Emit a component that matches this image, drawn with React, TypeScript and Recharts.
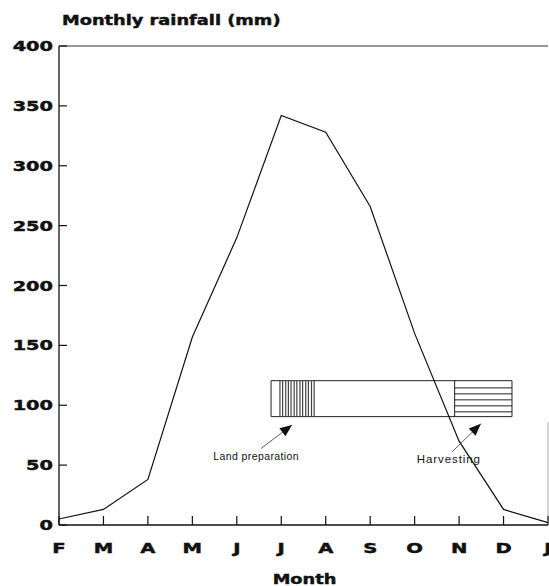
import React from "react";
import {
  LineChart,
  Line,
  XAxis,
  YAxis,
  ReferenceArea,
  ReferenceLine,
  ReferenceDot,
} from "recharts";

// months Feb -> Jan, monthly rainfall (mm)
const MONTHS = ["F", "M", "A", "M", "J", "J", "A", "S", "O", "N", "D", "J"];
const RAINFALL = [5, 13, 38, 157, 240, 342, 328, 266, 160, 70, 13, 2];
const Y_TICKS = [0, 50, 100, 150, 200, 250, 300, 350, 400];

// crop calendar bar (x in month index, y in mm)
const BAR_X = [4.77, 10.19];
const BAR_Y = [90.5, 120.5];
const LAND_HATCH_X = [4.97, 5.03, 5.1, 5.16, 5.22, 5.29, 5.35, 5.42, 5.48, 5.55, 5.61, 5.68, 5.74];
const HARVEST_X = [8.9, 10.19];
const HARVEST_LINES_Y = [114.5, 109.5, 104.5, 99.5, 94.5];

const LAND_ARROW = { from: { x: 4.55, y: 64 }, to: { x: 5.24, y: 83.5 } };
const HARVEST_ARROW = { from: { x: 8.84, y: 61 }, to: { x: 9.49, y: 84.5 } };
const LAND_LABEL = { x: 3.47, y: 54, text: "Land preparation" };
const HARVEST_LABEL = { x: 8.05, y: 52, text: "Harvesting" };

const data = RAINFALL.map((v, i) => ({ m: i, rain: v }));

const BOLD = "'DejaVu Sans', sans-serif";
const INK = "#111";

// heavy, extended lettering like the original print
function WideText({ x, y, sx, size, anchor, spacing, children }: any) {
  return (
    <text
      transform={`translate(${x},${y}) scale(${sx},1)`}
      textAnchor={anchor}
      fontFamily={BOLD}
      fontWeight="bold"
      fontSize={size}
      letterSpacing={spacing || 0}
      fill={INK}
      stroke={INK}
      strokeWidth={0.45}
    >
      {children}
    </text>
  );
}

function XTick({ x, y, payload }: any) {
  return (
    <g>
      <line x1={x} x2={x} y1={y} y2={y - 9} stroke={INK} strokeWidth={1.2} />
      <WideText x={x} y={y + 28} sx={1.4} size={14} anchor="middle">
        {MONTHS[payload.value]}
      </WideText>
    </g>
  );
}

function YTick({ x, y, payload }: any) {
  return (
    <g>
      <line x1={x} x2={x + 8} y1={y} y2={y} stroke={INK} strokeWidth={1.2} />
      <WideText x={x - 6} y={y + 5} sx={1.38} size={14} anchor="end">
        {payload.value}
      </WideText>
    </g>
  );
}

function arrowHead(angle: number) {
  return (props: any) => {
    const { cx, cy } = props;
    return (
      <polygon
        points="0,0 -12,-5 -12,5"
        transform={`translate(${cx},${cy}) rotate(${angle})`}
        fill={INK}
      />
    );
  };
}

function labelShape(text: string, size: number, spacing: number) {
  return (props: any) => (
    <text
      x={props.cx}
      y={props.cy}
      fontFamily="'Liberation Sans', Arial, sans-serif"
      fontSize={size}
      letterSpacing={spacing}
      fill={INK}
    >
      {text}
    </text>
  );
}

export default function App() {
  return (
    <div style={{ position: "absolute", left: 0, top: 0, background: "#fff" }}>
      <LineChart
        width={549}
        height={586}
        data={data}
        margin={{ top: 46, right: 1, bottom: 0, left: 0 }}
      >
        <XAxis
          dataKey="m"
          type="number"
          domain={[0, 11]}
          ticks={MONTHS.map((_, i) => i)}
          interval={0}
          height={61}
          tickSize={0}
          tickMargin={0}
          tickLine={false}
          tick={<XTick />}
          axisLine={{ stroke: INK, strokeWidth: 1.3 }}
          label={{
            content: ({ viewBox }: any) => (
              <WideText
                x={viewBox.x + viewBox.width / 2 + 1}
                y={viewBox.y + 59}
                sx={1.27}
                size={14}
                anchor="middle"
              >
                Month
              </WideText>
            ),
          }}
        />
        <YAxis
          type="number"
          domain={[0, 400]}
          ticks={Y_TICKS}
          width={59}
          tickSize={0}
          tickMargin={0}
          tickLine={false}
          tick={<YTick />}
          axisLine={{ stroke: INK, strokeWidth: 1.3 }}
          label={{
            content: ({ viewBox }: any) => (
              <WideText
                x={viewBox.x + viewBox.width + 3}
                y={viewBox.y - 21}
                sx={1.27}
                size={14}
                anchor="start"
              >
                Monthly rainfall (mm)
              </WideText>
            ),
          }}
        />
        <ReferenceLine y={400} stroke="#333" strokeWidth={1} />
        <ReferenceLine
          segment={[{ x: 11, y: 4 }, { x: 11, y: 86 }]}
          stroke="#aaa"
          strokeWidth={1}
        />

        {/* crop calendar bar */}
        <ReferenceArea
          x1={BAR_X[0]}
          x2={BAR_X[1]}
          y1={BAR_Y[0]}
          y2={BAR_Y[1]}
          fill="none"
          stroke="#222"
          strokeWidth={1}
        />
        {LAND_HATCH_X.map((hx) => (
          <ReferenceLine
            key={"h" + hx}
            segment={[{ x: hx, y: BAR_Y[0] }, { x: hx, y: BAR_Y[1] }]}
            stroke="#444"
            strokeWidth={1.2}
          />
        ))}
        <ReferenceLine
          segment={[{ x: HARVEST_X[0], y: BAR_Y[0] }, { x: HARVEST_X[0], y: BAR_Y[1] }]}
          stroke="#222"
          strokeWidth={1}
        />
        {HARVEST_LINES_Y.map((hy) => (
          <ReferenceLine
            key={"v" + hy}
            segment={[{ x: HARVEST_X[0], y: hy }, { x: HARVEST_X[1], y: hy }]}
            stroke="#222"
            strokeWidth={1}
          />
        ))}

        {/* arrows and labels */}
        <ReferenceLine segment={[LAND_ARROW.from, LAND_ARROW.to]} stroke="#333" strokeWidth={0.8} />
        <ReferenceLine segment={[HARVEST_ARROW.from, HARVEST_ARROW.to]} stroke="#333" strokeWidth={0.8} />
        <ReferenceDot x={LAND_ARROW.to.x} y={LAND_ARROW.to.y} r={0} shape={arrowHead(-37.5)} />
        <ReferenceDot x={HARVEST_ARROW.to.x} y={HARVEST_ARROW.to.y} r={0} shape={arrowHead(-43.5)} />
        <ReferenceDot x={LAND_LABEL.x} y={LAND_LABEL.y} r={0} shape={labelShape(LAND_LABEL.text, 10.5, 0.4)} />
        <ReferenceDot x={HARVEST_LABEL.x} y={HARVEST_LABEL.y} r={0} shape={labelShape(HARVEST_LABEL.text, 11.5, 0.9)} />

        <Line
          type="linear"
          dataKey="rain"
          stroke={INK}
          strokeWidth={1.2}
          dot={false}
          isAnimationActive={false}
        />
      </LineChart>
    </div>
  );
}
